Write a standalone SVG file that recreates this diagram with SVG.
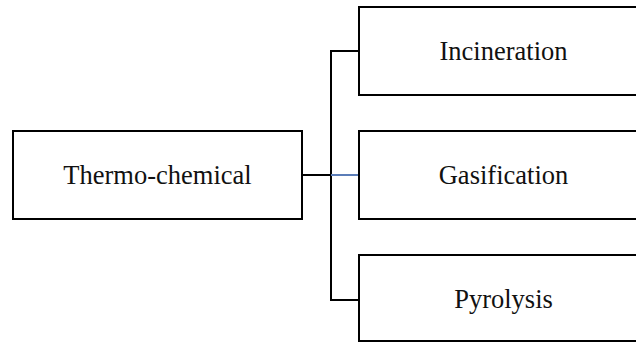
<svg xmlns="http://www.w3.org/2000/svg" width="636" height="343" viewBox="0 0 636 343">
<style>
.box{fill:#fff;stroke:#000;stroke-width:2}
.lbl{font-family:"Liberation Serif","Times New Roman",serif;font-size:26.5px;fill:#111;text-anchor:middle}
.con{fill:none;stroke:#000;stroke-width:2}
</style>
<rect width="636" height="343" fill="#fff"/>
<g id="connectors">
<path class="con" d="M302 175H331M331 51V300M330 51H359M330 300H359"/>
<path d="M331 175H359" stroke="#5B7DB8" stroke-width="2" fill="none"/>
</g>
<g id="thermo"><rect class="box" x="13" y="131" width="289" height="88"/><text class="lbl" x="157.5" y="184">Thermo-chemical</text></g>
<g id="incineration"><rect class="box" x="359" y="7" width="289" height="88"/><text class="lbl" x="503.5" y="60">Incineration</text></g>
<g id="gasification"><rect class="box" x="359" y="131" width="289" height="88"/><text class="lbl" x="503.5" y="184">Gasification</text></g>
<g id="pyrolysis"><rect class="box" x="359" y="255" width="289" height="86"/><text class="lbl" x="503.5" y="308">Pyrolysis</text></g>
</svg>
